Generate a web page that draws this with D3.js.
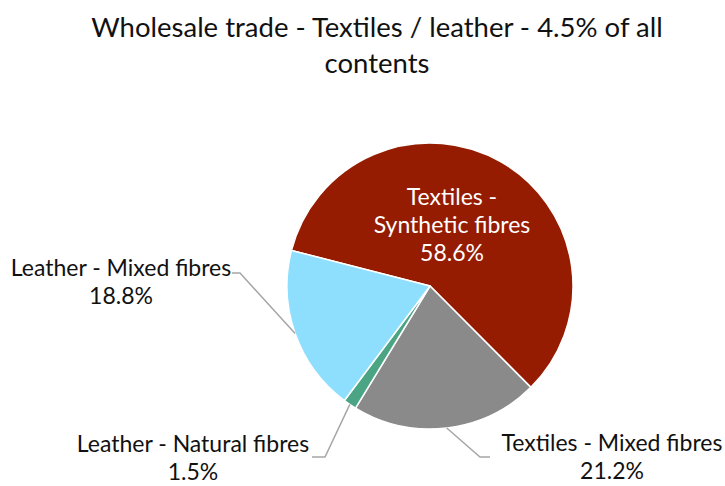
<!DOCTYPE html>
<html>
<head>
<meta charset="utf-8">
<script src="https://cdn.jsdelivr.net/npm/d3@7"></script>
<style>
  html, body { margin: 0; padding: 0; background: #fff; }
  svg { display: block; font-family: Lato, "Open Sans", sans-serif; }
</style>
</head>
<body>
<svg id="chart" width="725" height="486"></svg>
<script>
// Share of textile / leather contents in wholesale trade
const titleLines = ["Wholesale trade - Textiles / leather - 4.5% of all", "contents"];
const categories = ["Textiles - Synthetic fibres", "Textiles - Mixed fibres", "Leather - Natural fibres", "Leather - Mixed fibres"];
const shares = [58.6, 21.2, 1.5, 18.8];
const colors = ["#951C00", "#8A8A8A", "#4BA585", "#8EDEFE"];

const svg = d3.select("#chart");
const cx = 430, cy = 286, radius = 143;
const deg = Math.PI / 180;

// title
svg.append("g").selectAll("text").data(titleLines).join("text")
  .attr("x", 377).attr("y", (d, i) => 37 + i * 36)
  .attr("text-anchor", "middle")
  .attr("font-size", 27.5)
  .attr("fill", "#111")
  .text(d => d);

const data = categories.map((c, i) => ({ name: c, value: shares[i], color: colors[i] }));

const pie = d3.pie().sort(null).value(d => d.value)
  .startAngle(284.4 * deg).endAngle(284.4 * deg + 2 * Math.PI);
const arcs = pie(data);
const arc = d3.arc().innerRadius(0).outerRadius(radius);

const g = svg.append("g").attr("transform", `translate(${cx},${cy})`);
g.selectAll("path").data(arcs).join("path")
  .attr("d", arc)
  .attr("fill", d => d.data.color)
  .attr("stroke", "#fff")
  .attr("stroke-width", 1.5)
  .attr("stroke-linejoin", "round");

const fmt = v => v.toFixed(1) + "%";
const edge = a => [cx + radius * Math.sin(a), cy - radius * Math.cos(a)];
const mid = d => (d.startAngle + d.endAngle) / 2;

// label placement for each slice: text anchor point and leader elbow
const labelSpec = {
  "Textiles - Synthetic fibres": { inside: true, x: 452, y: 205, lines: ["Textiles -", "Synthetic fibres"] },
  "Textiles - Mixed fibres": { x: 612, y: 451, elbow: [480, 457], end: [490, 457] },
  "Leather - Natural fibres": { x: 193, y: 452, elbow: [325, 457], end: [312, 457] },
  "Leather - Mixed fibres": { x: 121, y: 276, elbow: [240, 273], end: [232, 273] }
};

const leaders = svg.append("g");
const labels = svg.append("g");

arcs.forEach(d => {
  const s = labelSpec[d.data.name];
  const lines = (s.lines || [d.data.name]).concat([fmt(d.data.value)]);
  const t = labels.append("text")
    .attr("text-anchor", "middle")
    .attr("font-size", 23)
    .attr("fill", s.inside ? "#fff" : "#111");
  lines.forEach((ln, i) => {
    t.append("tspan").attr("x", s.x).attr("y", s.y + i * 28).text(ln);
  });
  if (!s.inside) {
    const p = edge(mid(d));
    leaders.append("polyline")
      .attr("points", [p, s.elbow, s.end].map(q => q.join(",")).join(" "))
      .attr("fill", "none")
      .attr("stroke", "#A6A6A6")
      .attr("stroke-width", 1.5);
  }
});
</script>
</body>
</html>
